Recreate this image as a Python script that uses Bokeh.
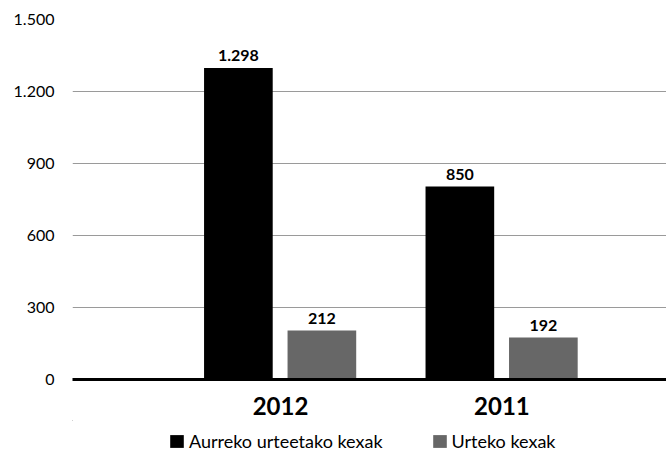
from bokeh.plotting import figure
from bokeh.models import (ColumnDataSource, Range1d, FixedTicker, Legend, LegendItem, LabelSet)
from bokeh.layouts import column
from bokeh.core.properties import value
from bokeh.transform import dodge
from bokeh.embed import file_html
from bokeh.resources import INLINE

# ---- data ----
years = ["2012", "2011"]
year_pos = [0.5, 1.5]
prev_years = [1298, 804]          # Aurreko urteetako kexak (bar heights as drawn)
prev_labels = ["1.298", "850"]
this_year = [204, 175]            # Urteko kexak (bar heights as drawn)
this_labels = ["212", "192"]
y_ticks = [0, 300, 600, 900, 1200, 1500]
y_tick_labels = ["0", "300", "600", "900", "1.200", "1.500"]
series_names = ["Aurreko urteetako kexak", "Urteko kexak"]
series_colors = ["#000000", "#676767"]

FONT = "Lato"

src = ColumnDataSource(dict(x=year_pos, prev=prev_years, prev_lab=prev_labels,
                            cur=this_year, cur_lab=this_labels))

p = figure(width=666, height=420, x_range=Range1d(-0.439, 2.243), y_range=Range1d(0, 1500),
           output_backend="svg", toolbar_location=None,
           min_border_left=72, min_border_right=0, min_border_top=19, min_border_bottom=41)
p.outline_line_color = None
p.background_fill_color = "white"

p.vbar(x=dodge("x", -0.19, range=p.x_range), top="prev", width=0.31, source=src,
       fill_color=series_colors[0], line_color=None)
p.vbar(x=dodge("x", 0.187, range=p.x_range), top="cur", width=0.31, source=src,
       fill_color=series_colors[1], line_color=None)

for col, lab, off in (("prev", "prev_lab", -0.19), ("cur", "cur_lab", 0.187)):
    ls = LabelSet(x=dodge("x", off, range=p.x_range), y=col, text=lab, source=src,
                  y_offset=7, text_align="center", text_baseline="alphabetic",
                  text_font=value(FONT), text_font_style="bold", text_font_size="16px",
                  text_color="#000000")
    p.add_layout(ls)

# y axis
p.yaxis.ticker = FixedTicker(ticks=y_ticks)
p.yaxis.major_label_overrides = {t: l for t, l in zip(y_ticks, y_tick_labels)}
p.yaxis.axis_line_color = None
p.yaxis.major_tick_line_color = None
p.yaxis.minor_tick_line_color = None
p.yaxis.major_label_standoff = 12
p.yaxis.major_label_text_font = FONT
p.yaxis.major_label_text_font_size = "16px"
p.yaxis.major_label_text_color = "#000000"

# x axis
p.xaxis.ticker = FixedTicker(ticks=year_pos)
p.xaxis.major_label_overrides = {pos: y for pos, y in zip(year_pos, years)}
p.xaxis.axis_line_color = "#000000"
p.xaxis.axis_line_width = 3
p.xaxis.major_tick_line_color = None
p.xaxis.minor_tick_line_color = None
p.xaxis.major_label_standoff = 11
p.xaxis.major_label_text_font = FONT
p.xaxis.major_label_text_font_style = "bold"
p.xaxis.major_label_text_font_size = "24px"
p.xaxis.major_label_text_color = "#000000"

p.xgrid.grid_line_color = None
p.ygrid.grid_line_color = "#9a9a9a"
p.ygrid.grid_line_width = 1

# ---- legend strip (separate figure so the legend is not clipped) ----
# the strip's ranges keep its own bars out of view; only the legend shows
lg = figure(width=666, height=32, x_range=Range1d(10, 11), y_range=Range1d(-2, -1),
            output_backend="svg", toolbar_location=None,
            min_border_left=0, min_border_right=0, min_border_top=0, min_border_bottom=0,
            x_axis_type=None, y_axis_type=None)
lg.outline_line_color = None
lg.xgrid.grid_line_color = None
lg.ygrid.grid_line_color = None
lg.border_fill_color = "white"
lg.background_fill_color = "white"
items = []
for name, color, col in zip(series_names, series_colors, ("prev", "cur")):
    r = lg.vbar(x="x", top=col, width=0.31, source=src, fill_color=color, line_color=None)
    items.append(LegendItem(label=name, renderers=[r]))

legend = Legend(items=items, orientation="horizontal", location=(96, 0),
                glyph_width=17, glyph_height=16, label_standoff=4, spacing=48,
                padding=0, margin=0, border_line_color=None, background_fill_alpha=0,
                label_text_font=FONT, label_text_font_size="18px", label_text_color="#000000",
                label_height=16)
lg.add_layout(legend, "center")

layout = column(p, lg, spacing=0)
open("out.html", "w").write(file_html(layout, INLINE))
